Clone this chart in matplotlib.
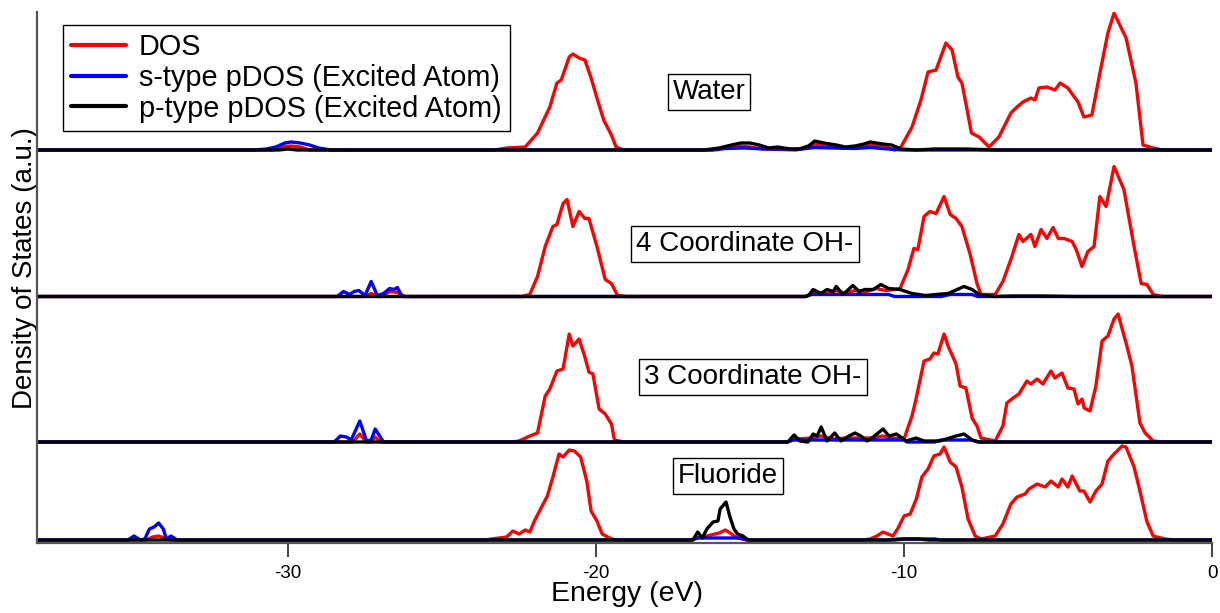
import matplotlib
matplotlib.use("Agg")
import matplotlib.pyplot as plt

plt.rcParams['font.family'] = ['Liberation Sans', 'DejaVu Sans']

# ---------------------------------------------------------------- data
# Energies in eV, densities in arbitrary units (same scale for every panel)

# Water
water_dos_e = [-38.2, -30.5, -30.2, -29.9, -29.6, -29.3,
               -23.3, -22.9, -22.3, -21.9, -21.5, -21.27, -21.13, -20.87, -20.75,
               -20.55, -20.36, -20.16, -19.95, -19.75, -19.5, -19.35, -19.1,
               -16.3, -15.9, -15.4, -15.0, -14.6, -13.5, -13.1, -12.9, -12.5,
               -12.0, -11.5, -11.1, -10.6, -10.3,
               -10.1, -9.74, -9.45, -9.22, -8.96, -8.64, -8.44, -8.25, -8.12,
               -7.95, -7.81, -7.56, -7.24, -6.92, -6.53, -6.33, -6.14, -5.88,
               -5.75, -5.62, -5.36, -5.10, -4.93, -4.68, -4.35, -4.16, -3.9,
               -3.64, -3.38, -3.18, -2.79, -2.47, -2.24, -1.91, -1.6, 0.0]
water_dos = [0, 0, 3, 4, 3, 0,
             0, 2, 3, 17, 43, 67, 70, 93, 96,
             92, 90, 72, 50, 30, 15, 3, 0,
             0, 2, 4, 3, 1, 0, 3, 6, 4,
             2, 3, 5, 3, 0,
             3, 23, 50, 78, 80, 107, 100, 73, 67,
             40, 17, 13, 3, 13, 37, 43, 48, 52,
             50, 62, 63, 60, 67, 62, 48, 33, 35,
             77, 117, 137, 112, 67, 5, 2, 0, 0]

water_s_e = [-38.2, -31.1, -30.7, -30.4, -30.1, -29.9, -29.6, -29.3, -29.0, -28.6,
             -16.2, -15.8, -15.2, -14.5, -13.3, -12.9, -12.3, -11.6, -11.1,
             -10.5, -10.0, 0.0]
water_s = [0, 0, 1, 3, 7, 8, 7, 5, 2, 0,
           0, 1.5, 2, 1, 1, 2.5, 2, 1.5, 2.5,
           1, 0, 0]

water_p_e = [-38.2, -30.3, -30.0, -29.7,
             -16.5, -16.0, -15.6, -15.3, -15.0, -14.7, -14.4, -14.1, -13.7,
             -13.4, -13.1, -12.9, -12.6, -12.2, -11.9, -11.6, -11.3, -11.1,
             -10.7, -10.4, -10.1, -9.6, -9.0, -8.0, -7.0, 0.0]
water_p = [0, 0, 1, 0,
           0, 2, 5, 7, 7, 5, 2, 3, 1,
           1, 4, 9, 7, 5, 3, 4, 6, 8,
           6, 5, 1, 0, 1, 1, 0, 0]

# 4-coordinate hydroxide
oh4_dos_e = [-38.2, -27.5, -27.3, -27.1, -26.95, -26.7, -26.45, -26.2,
             -22.4, -22.15, -21.9, -21.65, -21.4, -21.27, -21.07, -20.94,
             -20.75, -20.55, -20.36, -20.23, -19.97, -19.7, -19.5, -19.3, -19.0,
             -13.2, -12.9, -12.5, -12.2, -11.9, -11.6, -11.2, -10.9, -10.6, -10.3,
             -10.13, -9.87, -9.68, -9.55, -9.35, -9.16, -8.96, -8.7, -8.5,
             -8.31, -8.12, -7.86, -7.63, -7.5, -7.04, -6.79, -6.53, -6.27,
             -6.14, -5.88, -5.75, -5.55, -5.36, -5.16, -4.99, -4.8, -4.54,
             -4.41, -4.22, -4.03, -3.83, -3.64, -3.44, -3.18, -2.86, -2.53,
             -2.3, -2.11, -1.91, -1.6, 0.0]
oh4_dos = [0, 0, 3, 0, 0, 5, 4, 0,
           0, 2, 20, 50, 70, 72, 93, 97,
           70, 85, 78, 78, 50, 17, 13, 1, 0,
           0, 4, 3, 6, 3, 6, 5, 8, 6, 7,
           8, 27, 48, 47, 80, 85, 83, 100, 82,
           78, 70, 43, 13, 2, 2, 15, 37, 62,
           55, 62, 50, 67, 58, 69, 58, 58, 55,
           47, 30, 45, 50, 100, 90, 130, 107, 50,
           13, 12, 2, 0, 0]

oh4_s_e = [-38.2, -28.4, -28.2, -28.0, -27.85, -27.7, -27.5, -27.3, -27.1,
           -26.9, -26.7, -26.55, -26.45, -26.3,
           -13.2, -13.0, -10.5, -10.3, -8.8, -8.5, -7.8, -7.6, 0.0]
oh4_s = [0, 0, 5, 2, 5, 6, 1, 15, 1,
         3, 8, 7, 9, 0,
         0, 2, 2, 0, 0, 2, 2, 0, 0]

oh4_p_e = [-38.2, -13.2, -13.1, -12.95, -12.7, -12.5, -12.3, -12.2, -11.98,
           -11.66, -11.46, -11.27, -11.0, -10.75, -10.5, -10.13, -9.74,
           -9.3, -8.96, -8.57, -8.05, -7.79, -7.56, -7.04, -6.5, -5.5, -4.5, 0.0]
oh4_p = [0, 0, 1, 7, 3, 7, 5, 10, 2,
         11, 5, 7, 7, 12, 8, 7, 3,
         1, 2, 3, 10, 7, 2, 0, 0.5, 0.5, 0, 0]

# 3-coordinate hydroxide
oh3_dos_e = [-38.2, -27.9, -27.67, -27.45, -27.3, -27.17, -27.0,
             -22.7, -22.5, -22.15, -21.9, -21.65, -21.5, -21.27, -21.07,
             -20.87, -20.75, -20.55, -20.36, -20.23, -20.1, -19.9, -19.7,
             -19.5, -19.4, -19.1,
             -13.8, -13.5, -13.0, -12.7, -12.3, -11.9, -11.5, -11.0, -10.7, -10.4,
             -10.0, -9.74, -9.61, -9.35, -9.16, -9.03, -8.9, -8.7, -8.57,
             -8.31, -8.18, -7.99, -7.79, -7.63, -7.5, -7.04, -6.79, -6.66,
             -6.46, -6.27, -6.01, -5.88, -5.68, -5.49, -5.23, -5.1, -4.87,
             -4.68, -4.48, -4.35, -4.22, -4.15, -3.96, -3.77, -3.57, -3.38,
             -3.18, -3.05, -2.79, -2.6, -2.34, -2.17, -1.91, -1.6, 0.0]
oh3_dos = [0, 0, 8, 0, 0, 5, 0,
           0, 1, 6, 9, 46, 53, 71, 73,
           108, 96, 103, 85, 70, 68, 33, 28,
           18, 2, 0,
           0, 3, 4, 6, 3, 4, 4, 4, 6, 4,
           3, 26, 43, 81, 83, 89, 88, 108, 96,
           78, 56, 54, 24, 16, 4, 1, 16, 39,
           44, 48, 61, 58, 63, 58, 71, 64, 69,
           54, 53, 38, 43, 34, 31, 56, 101, 106,
           123, 128, 99, 76, 19, 9, 1, 0, 0]

oh3_s_e = [-38.2, -28.5, -28.3, -28.1, -27.95, -27.67, -27.45, -27.3, -27.17,
           -26.9, -13.8, -13.6, -10.0, -9.9, -9.0, -8.8, -7.8, -7.6, 0.0]
oh3_s = [0, 0, 6, 5, 2, 21, 1, 2, 13,
         0, 0, 2, 2, 0, 0, 2, 2, 0, 0]

oh3_p_e = [-38.2, -13.77, -13.57, -13.38, -13.12, -12.95, -12.82, -12.69,
           -12.5, -12.25, -12.05, -11.79, -11.59, -11.4, -11.2, -11.0,
           -10.88, -10.68, -10.49, -10.25, -10.06, -9.93, -9.61, -9.35,
           -8.83, -8.31, -8.05, -7.79, -7.56, 0.0]
oh3_p = [0, 0, 7, 1, 0, 8, 6, 15,
         1, 9, 1, 6, 9, 6, 1, 5,
         8, 13, 6, 8, 4, 1, 4, 1,
         1, 6, 8, 2, 0, 0]

# Fluoride
f_dos_e = [-38.2, -34.6, -34.4, -34.2, -34.0, -33.8,
           -23.6, -23.4, -22.9, -22.7, -22.5, -22.3, -22.15, -22.0, -21.8,
           -21.58, -21.4, -21.2, -21.07, -20.87, -20.7, -20.5, -20.3, -20.16,
           -19.97, -19.8, -19.5, -19.3,
           -16.9, -16.6, -16.4, -16.0, -15.8, -15.6, -15.4, -15.1,
           -11.3, -11.1, -10.88, -10.68, -10.36, -10.19, -10.0, -9.8, -9.6,
           -9.42, -9.22, -9.03, -8.83, -8.7, -8.5, -8.31, -8.12, -7.92,
           -7.69, -7.5, -7.04, -6.79, -6.53, -6.33, -6.07, -5.94, -5.68,
           -5.42, -5.23, -4.99, -4.87, -4.68, -4.54, -4.29, -4.16, -3.96,
           -3.77, -3.57, -3.38, -3.18, -2.92, -2.79, -2.53, -2.34, -2.11,
           -1.91, -1.53, -1.2, 0.0]
f_dos = [0, 0, 3, 4, 2, 0,
         0, 1, 3, 9, 6, 10, 8, 19, 31,
         44, 63, 86, 83, 90, 89, 83, 59, 29,
         19, 6, 1, 0,
         0, 3, 4, 7, 10, 6, 2, 0,
         0, 1, 4, 8, 4, 12, 24, 26, 41,
         63, 71, 84, 86, 93, 78, 73, 53, 21,
         4, 1, 4, 16, 36, 43, 46, 51, 56,
         53, 59, 53, 61, 53, 64, 49, 49, 38,
         49, 56, 79, 86, 94, 93, 73, 49, 18,
         4, 1, 0, 0]

f_s_e = [-38.2, -35.2, -35.0, -34.8, -34.65, -34.5, -34.35, -34.2, -34.05,
         -33.95, -33.8, -33.6, -16.9, -16.7, -15.3, -15.1, -10.5, -10.2,
         -9.0, -8.8, 0.0]
f_s = [0, 0, 4, 0, 1, 11, 13, 17, 11,
       1, 4, 0, 0, 2, 2, 0, 0, 1,
       1, 0, 0]

f_p_e = [-38.2, -16.85, -16.7, -16.55, -16.4, -16.2, -16.04, -15.97, -15.78,
         -15.65, -15.52, -15.4, -15.23, -15.06, -10.3, -10.0, -9.5, -9.2, 0.0]
f_p = [0, 0, 8, 2, 11, 18, 19, 31, 38,
       23, 11, 6, 4, 0, 0, 1, 1, 0, 0]

panel_names = ["Water", "4 Coordinate OH-", "3 Coordinate OH-", "Fluoride"]
panel_offsets = [393, 246.5, 101, 3]
dos_series = [(water_dos_e, water_dos), (oh4_dos_e, oh4_dos),
              (oh3_dos_e, oh3_dos), (f_dos_e, f_dos)]
s_series = [(water_s_e, water_s), (oh4_s_e, oh4_s),
            (oh3_s_e, oh3_s), (f_s_e, f_s)]
p_series = [(water_p_e, water_p), (oh4_p_e, oh4_p),
            (oh3_p_e, oh3_p), (f_p_e, f_p)]

# panel label anchors (energy, height on the stacked axis)
label_x = [-16.33, -15.16, -14.9, -15.71]
label_y = [451, 299, 166, 67]

series_labels = ["DOS", "s-type pDOS (Excited Atom)", "p-type pDOS (Excited Atom)"]
series_colors = ["#ff0000", "#0000ff", "#000000"]
x_ticks = [-30, -20, -10, 0]

# ---------------------------------------------------------------- figure
W, H = 1220, 613
fig = plt.figure(figsize=(W / 100, H / 100), dpi=100)
ax = fig.add_axes([37 / W, 70 / H, 1175 / W, 531 / H])

lw = 2.4
for i, off in enumerate(panel_offsets):
    for (e, v), col, lab in zip((dos_series[i], s_series[i], p_series[i]),
                                series_colors, series_labels):
        ax.plot(e, [val + off for val in v], color=col, lw=lw,
                solid_joinstyle='round', solid_capstyle='round',
                label=lab if i == 0 else None)
    ax.text(label_x[i], label_y[i], panel_names[i], fontsize=20,
            ha='center', va='center',
            bbox=dict(boxstyle='square,pad=0.18', fc='white', ec='black', lw=1.0))

ax.set_xlim(-38.15, 0)
ax.set_ylim(0, 531)

for side in ('top', 'right'):
    ax.spines[side].set_visible(False)
for side in ('left', 'bottom'):
    ax.spines[side].set_color('#555555')
    ax.spines[side].set_linewidth(1.6)

ax.set_xticks(x_ticks)
ax.set_xticklabels([str(t) for t in x_ticks])
ax.tick_params(axis='x', direction='out', length=10, width=1.3, color='#333333',
               labelsize=13.5, pad=6)
ax.set_yticks([])

ax.set_xlabel("Energy (eV)", fontsize=20.5)
ax.xaxis.set_label_coords(0.502, -0.071)
ax.set_ylabel("Density of States (a.u.)", fontsize=20)
ax.yaxis.set_label_coords(0.001, 0.518)

leg = ax.legend(loc='upper left', bbox_to_anchor=(0.022, 0.976), borderaxespad=0,
                fontsize=20.8, frameon=True, fancybox=False, edgecolor='black',
                framealpha=1, handlelength=1.9, handletextpad=0.45,
                labelspacing=0.1, borderpad=0.28)
leg.get_frame().set_linewidth(1.0)
for line in leg.get_lines():
    line.set_linewidth(3)

fig.savefig("out.png", dpi=100)
